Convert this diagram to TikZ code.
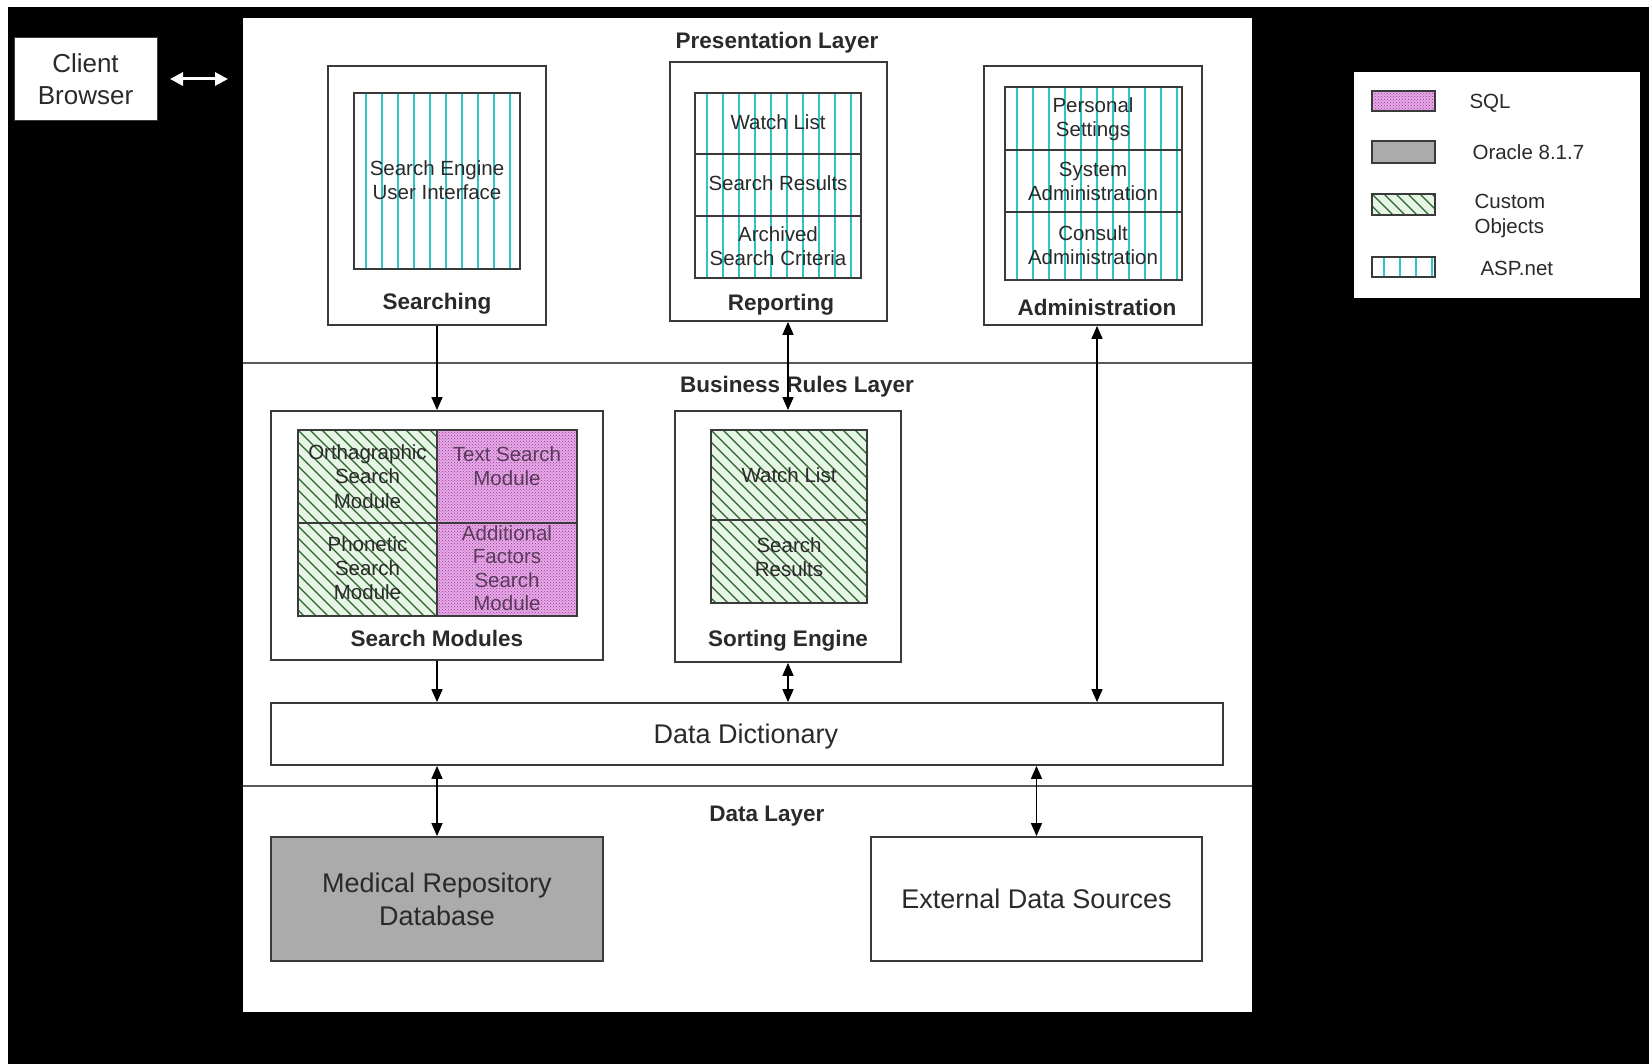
\documentclass[tikz,border=0pt]{standalone}
\usepackage{fontspec}
\setmainfont{Liberation Sans}
\usetikzlibrary{arrows.meta,patterns}
\definecolor{bord}{HTML}{3A3A3A}
\definecolor{txt}{HTML}{2A2A2A}
\definecolor{aspc}{HTML}{2CC6C6}
\definecolor{custbg}{HTML}{E6F5E6}
\definecolor{custln}{HTML}{2A632A}
\definecolor{sqlbg}{HTML}{E9A9E9}
\definecolor{sqldot}{HTML}{8E3C8E}
\definecolor{sqltxt}{HTML}{5A3A5A}
\definecolor{oragray}{HTML}{ABABAB}
\definecolor{divline}{HTML}{5A5A5A}
\tikzset{
  outerbox/.style={draw=bord, line width=1.8pt, fill=white, inner sep=0pt},
  frame/.style={draw=bord, line width=1.8pt, inner sep=0pt},
  bigtxt/.style={font=\fontsize{27}{33}\selectfont, text=txt, align=center},
  lbl/.style={font=\bfseries\fontsize{22.5}{27}\selectfont, text=txt},
  smalltxt/.style={font=\fontsize{20.5}{24}\selectfont, text=txt, align=center},
  legtxt/.style={font=\fontsize{20.5}{25}\selectfont, text=txt, align=left, anchor=west},
  arr/.style={draw=black, line width=1.5pt, -{Triangle[length=13pt,width=11pt]}},
  darr/.style={draw=black, line width=1.5pt, {Triangle[length=13pt,width=11pt]}-{Triangle[length=13pt,width=11pt]}},
  divider/.style={draw=divline, line width=2pt},
}
\newcommand\asprect[4]{%
  \begin{scope}
    \clip (#1,#2) rectangle (#3,#4);
    \fill[white] (#1,#2) rectangle (#3,#4);
    \foreach \k in {0,...,20} \draw[aspc, line width=2pt] ({#1+12+16*\k},#2) -- ({#1+12+16*\k},#4);
  \end{scope}}
\newcommand\custrect[4]{%
  \begin{scope}
    \clip (#1,#2) rectangle (#3,#4);
    \fill[custbg] (#1,#2) rectangle (#3,#4);
    \foreach \k in {-20,...,30} \draw[custln, line width=1.2pt] ({#1+12*\k},#2) -- ({#1+12*\k+200},{#2+200});
  \end{scope}}
\newcommand\sqlrect[4]{%
  \fill[sqlbg] (#1,#2) rectangle (#3,#4);
  \fill[pattern=crosshatch dots, pattern color=sqldot] (#1,#2) rectangle (#3,#4);}
\begin{document}
\begin{tikzpicture}[x=1pt,y=-1pt]
\useasboundingbox (0,0) rectangle (1649,1064);
\fill[white] (0,0) rectangle (1649,1064);
\fill[black] (8,7) rectangle (1649,1064);

% main panel
\node[fill=white, inner sep=0pt, minimum width=1009, minimum height=994] (panel) at (747.5,515) {};

% client browser
\node[fill=white, draw=bord, line width=1pt, minimum width=143, minimum height=83, inner sep=0pt, bigtxt, font=\fontsize{26}{32}\selectfont] (client) at (85.5,79) {Client\\Browser};
\coordinate (ca1) at (170,79);
\coordinate (ca2) at (228,79);
\draw[white, line width=3pt, {Triangle[length=13pt,width=13pt]}-{Triangle[length=13pt,width=13pt]}] (ca1) -- (ca2);

% dividers
\coordinate (d1l) at (243,363); \coordinate (d1r) at (1252,363);
\coordinate (d2l) at (243,786); \coordinate (d2r) at (1252,786);
\draw[divider] (d1l) -- (d1r);
\draw[divider] (d2l) -- (d2r);

% layer labels
\node[lbl] (plabel) at (777,43) {Presentation Layer};
\node[lbl] (blabel) at (797,387) {Business Rules Layer};
\node[lbl] (dlabel) at (767,816) {Data Layer};

% Searching
\node[outerbox, minimum width=218, minimum height=259] (searching) at (437,195.5) {};
\asprect{354}{93}{520}{269}
\node[frame, minimum width=166, minimum height=176] (seui) at (437,181) {};
\node[smalltxt] (seuitxt) at (437,180) {Search Engine\\User Interface};
\node[lbl] (searchinglbl) at (437,304) {Searching};

% Reporting
\node[outerbox, minimum width=217, minimum height=259] (reporting) at (778.5,191.5) {};
\asprect{695}{93}{861}{278}
\node[frame, minimum width=166, minimum height=185] (repinner) at (778,185.5) {};
\draw[bord, line width=1.8pt] (repinner.west |- 0,154) -- (repinner.east |- 0,154);
\draw[bord, line width=1.8pt] (repinner.west |- 0,216) -- (repinner.east |- 0,216);
\node[smalltxt] (rwl) at (778,122) {Watch List};
\node[smalltxt] (rsr) at (778,183) {Search Results};
\node[smalltxt] (rasc) at (778,246) {Archived\\Search Criteria};
\node[lbl] (reportinglbl) at (781,305) {Reporting};

% Administration
\node[outerbox, minimum width=218, minimum height=259] (admin) at (1093,195.5) {};
\asprect{1005}{87}{1182}{280}
\node[frame, minimum width=177, minimum height=193] (adminner) at (1093.5,183.5) {};
\draw[bord, line width=1.8pt] (adminner.west |- 0,150) -- (adminner.east |- 0,150);
\draw[bord, line width=1.8pt] (adminner.west |- 0,212) -- (adminner.east |- 0,212);
\node[smalltxt] (aps) at (1093,119) {Personal\\Settings};
\node[smalltxt] (asa) at (1093,181) {System\\Administration};
\node[smalltxt] (aca) at (1093,245) {Consult\\Administration};
\node[lbl] (adminlbl) at (1097,307) {Administration};

% Legend
\node[fill=white, inner sep=0pt, minimum width=286, minimum height=226] (legend) at (1497,185) {};
\sqlrect{1372}{91}{1435}{111}
\node[frame, line width=1.5pt, minimum width=63, minimum height=20] (lsql) at (1403.5,101) {};
\fill[oragray] (1372,141) rectangle (1435,163);
\node[frame, line width=1.5pt, minimum width=63, minimum height=22] (lora) at (1403.5,152) {};
\custrect{1372}{194}{1435}{215}
\node[frame, line width=1.5pt, minimum width=63, minimum height=21] (lcus) at (1403.5,204.5) {};
\asprect{1372}{257}{1435}{277}
\node[frame, line width=1.5pt, minimum width=63, minimum height=20] (lasp) at (1403.5,267) {};
\node[legtxt] (tsql) at (1466,103) {SQL};
\node[legtxt] (tora) at (1469,152) {Oracle 8.1.7};
\node[legtxt] (tcus) at (1471,216) {Custom\\Objects};
\node[legtxt] (tasp) at (1477,268) {ASP.net};

% Search Modules
\node[outerbox, minimum width=332, minimum height=249] (smod) at (437,535.5) {};
\custrect{298}{430}{437}{616}
\sqlrect{437}{430}{577}{616}
\node[frame, minimum width=279, minimum height=186] (smgrid) at (437.5,523) {};
\draw[bord, line width=1.8pt] (437,430) -- (437,616);
\draw[bord, line width=1.8pt] (298,523) -- (577,523);
\node[smalltxt, font=\fontsize{20.5}{24.5}\selectfont] (orth) at (367.5,476.5) {Orthagraphic\\Search\\Module};
\node[smalltxt, text=sqltxt, font=\fontsize{20.5}{24.5}\selectfont] (tsm) at (507,466) {Text Search\\Module};
\node[smalltxt, font=\fontsize{20.5}{24}\selectfont] (phon) at (367.5,568) {Phonetic\\Search\\Module};
\node[smalltxt, text=sqltxt, font=\fontsize{20.5}{23.5}\selectfont] (afsm) at (507,568) {Additional\\Factors\\Search\\Module};
\node[lbl] (smodlbl) at (437,638) {Search Modules};

% Sorting Engine
\node[outerbox, minimum width=226, minimum height=251] (sorting) at (788,536.5) {};
\custrect{711}{430}{867}{603}
\node[frame, minimum width=156, minimum height=173] (sortinner) at (789,516.5) {};
\draw[bord, line width=1.8pt] (711,520) -- (867,520);
\node[smalltxt] (swl) at (789,475) {Watch List};
\node[smalltxt] (ssr) at (789,557) {Search\\Results};
\node[lbl] (sortinglbl) at (788,641) {Sorting Engine};

% Data Dictionary
\node[outerbox, minimum width=952, minimum height=62, bigtxt] (dd) at (747,734) {};
\node[bigtxt] (ddtxt) at (746,737) {Data Dictionary};

% Data layer boxes
\node[outerbox, fill=oragray, minimum width=332, minimum height=124, bigtxt] (medical) at (437,899) {Medical Repository\\Database};
\node[outerbox, minimum width=331, minimum height=124, bigtxt] (external) at (1036.5,899) {External Data Sources};

% connectors
\coordinate (xa) at (1097,0);
\draw[arr] (searching.south) -- (smod.north);
\draw[darr] (reporting.south -| sorting.north) -- (sorting.north);
\draw[darr] (admin.south -| xa) -- (dd.north -| xa);
\draw[arr] (smod.south) -- (smod.south |- dd.north);
\draw[darr] (sorting.south) -- (sorting.south |- dd.north);
\draw[darr] (dd.south -| medical.north) -- (medical.north);
\draw[darr] (dd.south -| external.north) -- (external.north);
\end{tikzpicture}
\end{document}
